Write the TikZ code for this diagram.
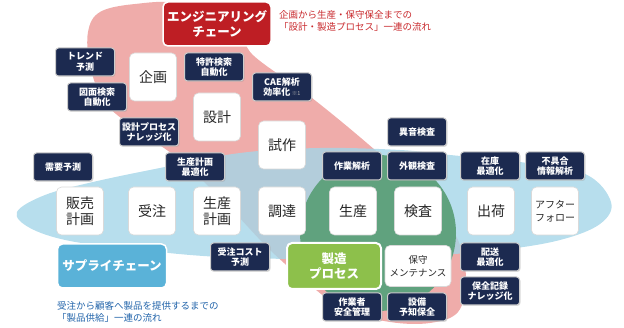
\documentclass[tikz,border=0pt]{standalone}
\usepackage{fontspec}
\setmainfont{Noto Sans CJK JP}
\usetikzlibrary{shadows}
\definecolor{navy}{RGB}{28,42,80}
\definecolor{engred}{RGB}{190,30,36}
\definecolor{engpink}{RGB}{239,172,170}
\definecolor{supblue}{RGB}{165,214,232}
\definecolor{supbox}{RGB}{90,178,216}
\definecolor{mfggreen}{RGB}{96,162,126}
\definecolor{mfgbox}{RGB}{141,192,75}
\definecolor{notered}{RGB}{200,40,44}
\definecolor{noteblue}{RGB}{34,100,170}
\tikzset{
  stage/.style={draw=gray!30, line width=0.6pt, fill=white, rounded corners=5pt,
    minimum width=47pt, minimum height=48pt, inner sep=1pt, align=center,
    text=black!85, font=\fontsize{14}{16}\selectfont},
  task/.style={draw=gray!40, line width=1pt, fill=navy, rounded corners=3pt,
    minimum width=59pt, minimum height=28pt, inner sep=1pt, align=center,
    text=white, font=\bfseries\fontsize{9}{10.5}\selectfont,
    drop shadow={opacity=0.25, shadow xshift=1pt, shadow yshift=-1pt}},
  chain/.style={draw=white, line width=1.5pt, rounded corners=5pt, inner sep=1pt,
    align=center, text=white, font=\bfseries\fontsize{12.5}{15.5}\selectfont},
  note/.style={anchor=north west, align=left, inner sep=0pt,
    font=\fontsize{9.5}{12.5}\selectfont}
}
\begin{document}
\begin{tikzpicture}[x=1pt, y=-1pt, line join=round]

  \useasboundingbox (0,0) rectangle (624,328);

  % engineering chain band
  \fill[engpink] plot[smooth cycle, tension=0.6] coordinates {
    (88,32) (100,12) (135,4) (180,4) (235,28) (254,56) (312,98) (375,150)
    (430,200) (458,240) (466,280) (458,312) (430,323) (390,322) (345,310)
    (310,285) (270,250) (230,208) (180,160) (130,125) (103,100) (90,65)};

  % supply chain band
  \fill[supblue, opacity=0.8] plot[smooth cycle, tension=0.6] coordinates {
    (17,212) (45,195) (93,182) (160,168) (240,153) (320,148) (400,150)
    (450,155) (520,162) (585,174) (611,202) (600,224) (560,240) (500,250)
    (420,256) (320,259) (220,257) (140,250) (70,241) (30,228)};

  % manufacturing process
  \fill[mfggreen] (378,233) circle (78);

  % chain titles
  \node[chain, fill=engred, minimum width=108pt, minimum height=44pt] (engchain)
    at (217,24) {エンジニアリング\\チェーン};
  \node[chain, fill=supbox, minimum width=109pt, minimum height=44pt] (supply)
    at (112,266) {サプライチェーン};
  \node[chain, fill=mfgbox, line width=2pt, minimum width=94pt, minimum height=46pt] (seizou)
    at (334,266) {製造\\プロセス};

  \node[note, text=notered] (engnote) at (279,10)
    {企画から生産・保守保全までの\\「設計・製造プロセス」一連の流れ};
  \node[note, text=noteblue] (supnote) at (57,301)
    {受注から顧客へ製品を提供するまでの\\「製品供給」一連の流れ};

  % process stages
  \node[stage] (kikaku)  at (153,77)  {企画};
  \node[stage] (sekkei)  at (217,117) {設計};
  \node[stage] (shisaku) at (282,145) {試作};
  \node[stage] (hanbai)  at (80,211)  {販売\\計画};
  \node[stage] (juchu)   at (152,211) {受注};
  \node[stage] (keikaku) at (217,211) {生産\\計画};
  \node[stage] (chotatsu) at (282,211) {調達};
  \node[stage] (seisan)  at (353,211) {生産};
  \node[stage] (kensa)   at (418,211) {検査};
  \node[stage] (shukka)  at (491,211) {出荷};
  \node[stage, font=\fontsize{10}{13}\selectfont] (after) at (555,211) {アフター\\フォロー};
  \node[stage, minimum width=66pt, minimum height=41pt, font=\fontsize{9.5}{12.5}\selectfont]
    (hoshu) at (418,266) {保守\\メンテナンス};

  % AI use cases
  \node[task] (trend)   at (85,62)   {トレンド\\予測};
  \node[task] (zumen)   at (97,97)   {図面検索\\自動化};
  \node[task] (tokkyo)  at (214,67)  {特許検索\\自動化};
  \node[task] (cae)     at (282,87)  {CAE解析\\効率化\,{\mdseries\fontsize{5.5}{6}\selectfont\color{gray!60}※1}};
  \node[task] (knowhow) at (149,132) {設計プロセス\\ナレッジ化};
  \node[task] (juyou)   at (63,167)  {需要予測};
  \node[task] (plan)    at (195,167) {生産計画\\最適化};
  \node[task] (ion)     at (417,132) {異音検査};
  \node[task] (sagyou)  at (352,166) {作業解析};
  \node[task] (gaikan)  at (417,166) {外観検査};
  \node[task] (zaiko)   at (490,166) {在庫\\最適化};
  \node[task] (fuguai)  at (555,166) {不具合\\情報解析};
  \node[task] (cost)    at (240,257) {受注コスト\\予測};
  \node[task] (haisou)  at (490,257) {配送\\最適化};
  \node[task] (kiroku)  at (490,291) {保全記録\\ナレッジ化};
  \node[task] (anzen)   at (352,307) {作業者\\安全管理};
  \node[task] (yochi)   at (417,307) {設備\\予知保全};

\end{tikzpicture}
\end{document}
